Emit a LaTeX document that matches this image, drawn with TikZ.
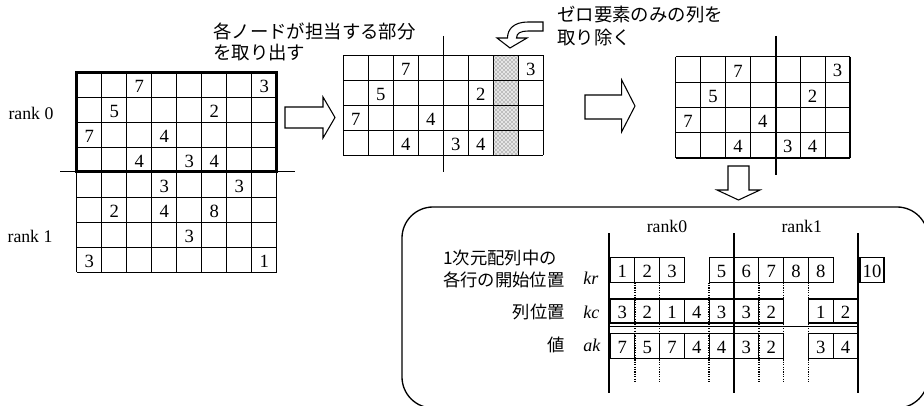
\documentclass[tikz,border=0pt]{standalone}
\usepackage{fontspec}
\setmainfont{Liberation Serif}
\newfontfamily\jp{Noto Sans CJK JP}
\usetikzlibrary{patterns}
\newcommand\mgrid[6]{% x0, y0, ncols, nrows, cellw, cellh
  \foreach \k in {0,...,#3} \draw[gridline] ({#1+#5*\k},#2) -- ({#1+#5*\k},{#2+#6*#4});
  \foreach \k in {0,...,#4} \draw[gridline] (#1,{#2+#6*\k}) -- ({#1+#5*#3},{#2+#6*\k});
}
\begin{document}
\begin{tikzpicture}[x=0.75pt,y=-0.75pt,line join=miter,
  gridline/.style={line width=0.9pt},
  thickline/.style={line width=1.7pt},
  num/.style={inner sep=0pt,font=\fontsize{14}{16}\selectfont},
  serif/.style={inner sep=0pt,font=\fontsize{13.3}{15}\selectfont},
  ital/.style={inner sep=0pt,font=\fontsize{13.5}{15}\selectfont\itshape},
  jptop/.style={inner sep=0pt,font=\jp\fontsize{13.8}{16}\selectfont},
  jpbox/.style={inner sep=0pt,font=\jp\fontsize{13}{15}\selectfont},
  blockarrow/.style={line width=0.8pt,fill=white},
  cellbox/.style={line width=0.9pt},
  ptr/.style={line width=1.2pt,dash pattern=on 0.9pt off 0.9pt}]
\useasboundingbox (0,0) rectangle (924,406);
\clip (0,0) rectangle (924,406);

% ---------------- left matrix ----------------
\mgrid{76.7}{72.3}{8}{8}{25}{25}
\foreach \c/\r/\v in {2/0/7,7/0/3,1/1/5,5/1/2,0/2/7,3/2/4,2/3/4,4/3/3,5/3/4,
                      3/4/3,6/4/3,1/5/2,3/5/4,5/5/8,4/6/3,0/7/3,7/7/1}
  \node[num] (L-\c-\r) at ({76.7+25*\c+12.5},{72.3+25*\r+14}) {\v};
\draw[line width=2.2pt] (76.7,72.3) rectangle (276.7,171.7);
\draw[line width=1pt] (60,171.7) -- (295,171.7);
\node[serif] (rank0L) at (31,113.3) {rank 0};
\node[serif] (rank1L) at (30,236.7) {rank 1};

% ---------------- top label ----------------
\node[jptop,anchor=west] (t1a) at (213,31.7) {各ノードが担当する部分};
\node[jptop,anchor=west] (t1b) at (213,52.7) {を取り出す};

% ---------------- arrow 1 ----------------
\draw[blockarrow] (285,107) -- (323,107) -- (323,97) -- (335,117.5) -- (323,138) -- (323,128) -- (285,128) -- cycle;

% ---------------- middle matrix ----------------
\fill[black!10] (493.3,55.3) rectangle (518.3,155.3);
\fill[pattern=crosshatch dots,pattern color=black!75] (493.3,55.3) rectangle (518.3,155.3);
\mgrid{343.3}{55.3}{8}{4}{25}{25}
\foreach \c/\r/\v in {2/0/7,7/0/3,1/1/5,5/1/2,0/2/7,3/2/4,2/3/4,4/3/3,5/3/4}
  \node[num] (M-\c-\r) at ({343.3+25*\c+12.5},{55.3+25*\r+14}) {\v};
\draw[line width=1pt] (443.3,36) -- (443.3,172);

% ---------------- curved arrow + label ----------------
\draw[blockarrow] (543,22) -- (528,22) .. controls (514,22) and (507.5,29) .. (507.5,38)
  -- (497,38) -- (510,48) -- (527,38) -- (516.5,38)
  .. controls (516.5,33) and (521,31) .. (528,31) -- (543,31) -- cycle;
\node[jptop,anchor=west] (t2a) at (557,15) {ゼロ要素のみの列を};
\node[jptop,anchor=west] (t2b) at (557,38) {取り除く};

% ---------------- arrow 2 ----------------
\draw[blockarrow] (585,95) -- (621.7,95) -- (621.7,80) -- (635,106) -- (621.7,131.7) -- (621.7,119) -- (585,119) -- cycle;

% ---------------- right matrix ----------------
\mgrid{675.7}{56.9}{7}{4}{24.9}{25.3}
\foreach \c/\r/\v in {2/0/7,6/0/3,1/1/5,5/1/2,0/2/7,3/2/4,2/3/4,4/3/3,5/3/4}
  \node[num] (R-\c-\r) at ({675.7+24.9*\c+12.45},{56.9+25.3*\r+14}) {\v};
\draw[line width=1pt] (776,36) -- (776,175);

% ---------------- arrow 3 (down) ----------------
\draw[blockarrow] (728,166) -- (749,166) -- (749,190) -- (760,190) -- (738.5,200) -- (717,190) -- (728,190) -- cycle;

% ---------------- rounded box ----------------
\draw[line width=1pt,rounded corners=23.25pt] (402,207) rectangle (928,408);

\node[serif] (rk0) at (667,226.7) {rank0};
\node[serif] (rk1) at (801.7,226.7) {rank1};

\node[jpbox,anchor=west] (l1) at (443,258) {1次元配列中の};
\node[jpbox,anchor=west] (l2) at (443,280) {各行の開始位置};
\node[jpbox,anchor=east] (l3) at (565,312) {列位置};
\node[jpbox,anchor=east] (l4) at (565,345) {値};
\node[ital,anchor=west] (kr) at (583,278) {kr};
\node[ital,anchor=west] (kc) at (583,312) {kc};
\node[ital,anchor=west] (ak) at (583,345) {ak};

% kr row
\foreach \i/\v in {0/1,1/2,2/3,4/5,5/6,6/7,7/8,8/8} {
  \draw[cellbox] ({610+24.8*\i},257.5) rectangle +(24.8,25);
  \node[num] (kr-\i) at ({610+24.8*\i+12.4},{257.5+14}) {\v};
}
\draw[cellbox] (860,257.5) rectangle (884,282.5);
\node[num] (kr-10) at (872,271.5) {10};
% kc row
\foreach \i/\v in {0/3,1/2,2/1,3/4,4/3,5/3,6/2,8/1,9/2} {
  \draw[cellbox] ({610+24.8*\i},299) rectangle +(24.8,24);
  \node[num] (kc-\i) at ({610+24.8*\i+12.4},{299+13.5}) {\v};
}
\draw[cellbox] (609,326.3) -- (858,326.3);
% ak row
\foreach \i/\v in {0/7,1/5,2/7,3/4,4/4,5/3,6/2,8/3,9/4} {
  \draw[cellbox] ({610+24.8*\i},333.5) rectangle +(24.8,25);
  \node[num] (ak-\i) at ({610+24.8*\i+12.4},{333.5+14}) {\v};
}
% pointer dotted lines
\foreach \i in {1,2,4,6,7,8}
  \draw[ptr] ({610+24.8*\i},282.5) -- ({610+24.8*\i},383);
% rank boundary lines
\foreach \xx in {609,734,858}
  \draw[thickline] (\xx,233) -- (\xx,393);
\end{tikzpicture}
\end{document}
